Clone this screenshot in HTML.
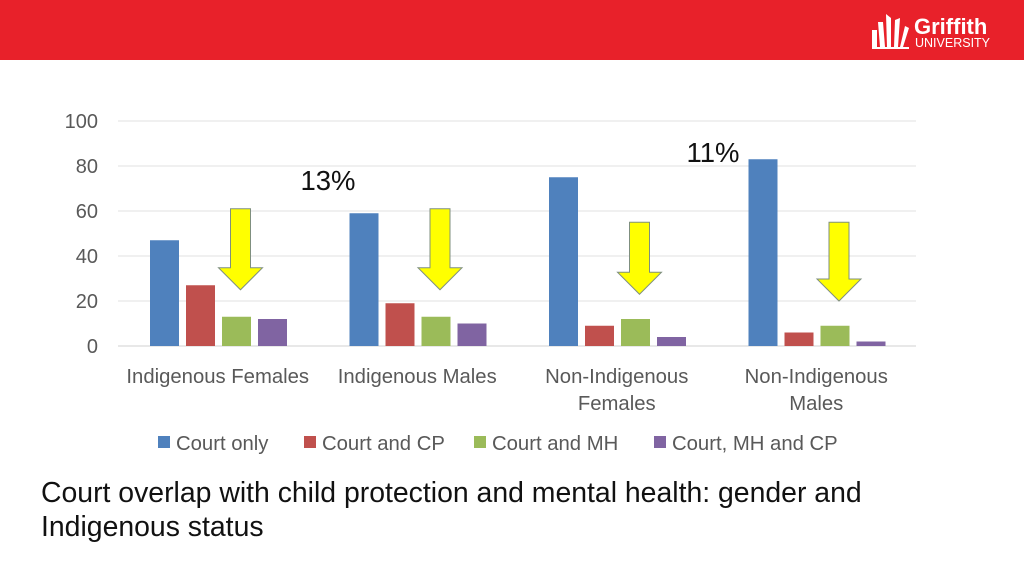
<!DOCTYPE html>
<html><head><meta charset="utf-8"><style>
body{margin:0;width:1024px;height:576px;overflow:hidden;background:#fff;font-family:"Liberation Sans",sans-serif;}
#hdr{position:absolute;left:0;top:0;width:1024px;height:60px;background:#e8212a;}
#cap{position:absolute;left:41px;top:476px;font-size:28.4px;line-height:34px;color:#111;}
</style></head><body>
<div id="hdr">
<svg width="1024" height="60">
<g fill="#fff">
<path d="M872 47 L872 30 L877 30 L877 47Z M880 47 L878 22 L883 22 L885 47Z M887 47 L886 14 L891 18 L891 47Z M894 47 L895 20 L900 18 L898 47Z M900 47 L905 26 L909 28 L903 47Z M872 47 L909 47 L909 49 L872 49Z"/>
<text x="914" y="34" font-size="22" font-weight="bold" font-family="Liberation Sans">Griffith</text>
<text x="915" y="47" font-size="12.5" font-family="Liberation Sans">UNIVERSITY</text>
</g></svg></div>
<svg id="chart" width="1024" height="576" style="position:absolute;left:0;top:0"></svg>
<div id="cap">Court overlap with child protection and mental health: gender and<br>Indigenous status</div>
<script>
const categories=[["Indigenous Females"],["Indigenous Males"],["Non-Indigenous","Females"],["Non-Indigenous","Males"]];
const seriesNames=["Court only","Court and CP","Court and MH","Court, MH and CP"];
const courtOnly=[47,59,75,83];
const courtCP=[27,19,9,6];
const courtMH=[13,13,12,9];
const courtMHCP=[12,10,4,2];
const yTicks=[0,20,40,60,80,100];
const arrowTops=[61,61,55,55];
const annotations=[{text:"13%",x:328,y:190},{text:"11%",x:713,y:162}];
const colors=["#4f81bd","#c0504d","#9bbb59","#8064a2"];
const NS="http://www.w3.org/2000/svg";
const svg=document.getElementById('chart');
const x0=118,x1=916,y0=346,yTop=121;
const yS=v=>y0-(v/100)*(y0-yTop);
const gW=(x1-x0)/categories.length;
const barW=29,step=36;
const barX=(g,s)=>x0+g*gW+32+s*step;
function mk(t,a){const e=document.createElementNS(NS,t);for(const k in a)e.setAttribute(k,a[k]);svg.appendChild(e);return e;}
yTicks.forEach(v=>{
 const l=mk('line',{x1:x0,x2:x1,y1:yS(v),y2:yS(v),stroke:v===0?'#d0d0d0':'#e0e0e0','stroke-width':1});
 
 
 const t=mk('text',{x:98,y:yS(v)+7,'text-anchor':'end','font-size':20,fill:'#595959'});
 t.textContent=v;
 
 
});
const series=[courtOnly,courtCP,courtMH,courtMHCP];
series.forEach((arr,s)=>arr.forEach((v,g)=>{
 const r=mk('rect',{x:barX(g,s),y:yS(v),width:barW,height:y0-yS(v),fill:colors[s]});
 
 
}));
categories.forEach((c,g)=>{
 c.forEach((line,i)=>{
  const t=mk('text',{x:x0+g*gW+gW/2,y:383+i*27,'text-anchor':'middle','font-size':20.3,fill:'#595959'});
  t.textContent=line;
  
  
 });
 const cx=barX(g,2)+barW/2+4,top=yS(arrowTops[g]),tip=yS(courtMH[g]+(g<2?12:11));
 const hs=tip-22;
 const p=mk('path',{d:`M${cx-10} ${top} L${cx+10} ${top} L${cx+10} ${hs} L${cx+22} ${hs} L${cx} ${tip} L${cx-22} ${hs} L${cx-10} ${hs} Z`,fill:'#ffff00',stroke:'#7f8f7f','stroke-width':1});
 
 
});
annotations.forEach((a,i)=>{
 const t=mk('text',{x:a.x,y:a.y,'text-anchor':'middle','font-size':27.5,fill:'#111'});
 t.textContent=a.text;
 
 
});
const legX=[158,304,474,654];
seriesNames.forEach((n,s)=>{
 const r=mk('rect',{x:legX[s],y:436,width:12,height:12,fill:colors[s]});
 
 
 const t=mk('text',{x:legX[s]+18,y:450,'font-size':20.3,fill:'#595959'});
 t.textContent=n;
 
 
});
</script>
</body></html>
